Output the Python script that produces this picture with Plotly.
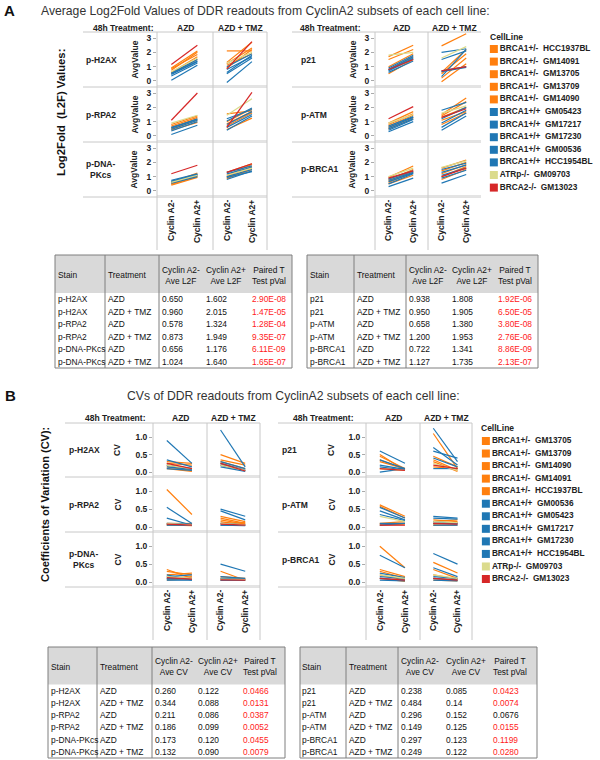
import plotly.graph_objects as go

W, H = 600, 760

# ------------------------------------------------------------------ categories
subsets = ["Cyclin A2-", "Cyclin A2+"]
treatments = ["AZD", "AZD + TMZ"]
stains_left = ["p-H2AX", "p-RPA2", "p-DNA-PKcs"]
stains_right = ["p21", "p-ATM", "p-BRCA1"]

cell_lines_A = ["BRCA1+/-  HCC1937BL", "BRCA1+/-  GM14091", "BRCA1+/-  GM13705",
                "BRCA1+/-  GM13709", "BRCA1+/-  GM14090", "BRCA1+/+  GM05423",
                "BRCA1+/+  GM17217", "BRCA1+/+  GM17230", "BRCA1+/+  GM00536",
                "BRCA1+/+  HCC1954BL", "ATRp-/-  GM09703", "BRCA2-/-  GM13023"]
genotype_A = ["BRCA1+/-", "BRCA1+/-", "BRCA1+/-", "BRCA1+/-", "BRCA1+/-",
              "BRCA1+/+", "BRCA1+/+", "BRCA1+/+", "BRCA1+/+", "BRCA1+/+",
              "ATRp-/-", "BRCA2-/-"]

cell_lines_B = ["BRCA1+/-  GM13705", "BRCA1+/-  GM13709", "BRCA1+/-  GM14090",
                "BRCA1+/-  GM14091", "BRCA1+/-  HCC1937BL", "BRCA1+/+  GM00536",
                "BRCA1+/+  GM05423", "BRCA1+/+  GM17217", "BRCA1+/+  GM17230",
                "BRCA1+/+  HCC1954BL", "ATRp-/-  GM09703", "BRCA2-/-  GM13023"]
genotype_B = ["BRCA1+/-", "BRCA1+/-", "BRCA1+/-", "BRCA1+/-", "BRCA1+/-",
              "BRCA1+/+", "BRCA1+/+", "BRCA1+/+", "BRCA1+/+", "BRCA1+/+",
              "ATRp-/-", "BRCA2-/-"]

# ------------------------------------------------------------------ panel A values (L2F), order = cell_lines_A
l2f_pH2AX_AZD_neg = [0.75, 0.90, 0.60, 0.55, 0.85, 0.45, 0.50, 0.35, 0.55, 0.05, 0.65, 1.15]
l2f_pH2AX_AZD_pos = [2.00, 2.10, 1.70, 1.50, 1.85, 1.35, 1.40, 1.25, 1.50, 1.10, 1.60, 2.50]
l2f_pH2AX_TMZ_neg = [2.10, 1.30, 1.20, 0.90, 1.10, 0.60, 0.80, 0.50, 1.00, -0.10, 1.25, 0.85]
l2f_pH2AX_TMZ_pos = [2.10, 2.70, 2.30, 2.20, 1.90, 1.80, 1.70, 1.60, 1.90, 1.35, 2.00, 2.75]
l2f_pRPA2_AZD_neg = [0.70, 0.80, 0.50, 0.40, 0.60, 0.55, 0.45, 0.35, 0.60, 0.10, 0.90, 1.10]
l2f_pRPA2_AZD_pos = [1.30, 1.40, 1.10, 0.95, 1.20, 1.20, 1.10, 1.00, 1.15, 0.75, 1.45, 3.00]
l2f_pRPA2_TMZ_neg = [1.55, 1.00, 0.85, 0.70, 0.45, 1.05, 1.20, 0.80, 0.60, 0.40, 1.45, 0.60]
l2f_pRPA2_TMZ_pos = [1.75, 1.90, 1.70, 1.60, 1.25, 1.95, 1.85, 1.70, 1.50, 1.40, 2.60, 3.05]
l2f_pDNAPK_AZD_neg = [0.60, 0.55, 0.45, 0.40, 0.50, 0.75, 0.70, 0.60, 0.65, 0.55, 0.60, 1.20]
l2f_pDNAPK_AZD_pos = [1.25, 1.10, 1.00, 0.95, 1.05, 1.20, 1.15, 1.10, 1.15, 1.00, 1.10, 1.80]
l2f_pDNAPK_TMZ_neg = [1.10, 1.00, 0.90, 0.85, 1.30, 1.20, 1.00, 0.80, 1.30, 0.95, 1.10, 1.30]
l2f_pDNAPK_TMZ_pos = [1.85, 1.70, 1.60, 1.50, 1.90, 1.65, 1.50, 1.40, 1.75, 1.35, 1.60, 1.90]
l2f_p21_AZD_neg = [1.70, 1.50, 1.00, 0.80, 0.50, 0.90, 0.80, 0.75, 0.70, 0.60, 1.80, 0.80]
l2f_p21_AZD_pos = [2.50, 2.20, 1.90, 1.70, 1.50, 1.80, 1.70, 1.60, 1.55, 1.40, 2.00, 1.50]
l2f_p21_TMZ_neg = [2.45, 0.20, 0.60, -0.05, 0.50, 2.00, 1.50, 0.70, 0.30, 0.65, 1.60, 0.70]
l2f_p21_TMZ_pos = [3.30, 1.60, 2.20, 1.20, 1.90, 2.25, 2.10, 1.00, 2.20, 0.95, 2.40, 1.00]
l2f_pATM_AZD_neg = [0.90, 0.80, 0.70, 0.60, 0.50, 0.70, 0.60, 0.50, 0.40, 0.30, 0.90, 1.20]
l2f_pATM_AZD_pos = [1.70, 1.55, 1.45, 1.30, 1.20, 1.35, 1.30, 1.20, 1.15, 1.00, 1.50, 2.05]
l2f_pATM_TMZ_neg = [1.50, 1.40, 1.30, 1.10, 0.80, 1.80, 1.20, 0.90, 0.60, 0.40, 1.60, 1.30]
l2f_pATM_TMZ_pos = [2.65, 2.40, 2.00, 1.70, 1.60, 2.35, 2.00, 1.80, 1.60, 1.40, 2.10, 1.90]
l2f_pBRCA1_AZD_neg = [0.95, 0.80, 0.70, 0.60, 0.50, 0.85, 0.75, 0.65, 0.50, 0.30, 1.00, 0.90]
l2f_pBRCA1_AZD_pos = [1.75, 1.50, 1.40, 1.30, 1.10, 1.40, 1.30, 1.25, 1.20, 0.90, 1.60, 1.40]
l2f_pBRCA1_TMZ_neg = [1.60, 1.40, 1.20, 1.00, 0.80, 1.50, 1.30, 1.10, 0.90, 0.55, 1.65, 1.00]
l2f_pBRCA1_TMZ_pos = [2.15, 2.00, 1.85, 1.70, 1.50, 1.95, 1.80, 1.60, 1.45, 1.15, 2.10, 1.60]

# ------------------------------------------------------------------ panel B values (CV), order = cell_lines_B
cv_pH2AX_AZD_neg = [0.30, 0.25, 0.20, 0.15, 0.10, 0.90, 0.35, 0.20, 0.15, 0.10, 0.20, 0.25]
cv_pH2AX_AZD_pos = [0.25, 0.20, 0.10, 0.05, 0.02, 0.25, 0.15, 0.10, 0.08, 0.05, 0.10, 0.10]
cv_pH2AX_TMZ_neg = [0.50, 0.35, 0.30, 0.25, 0.20, 1.20, 0.30, 0.25, 0.20, 0.15, 0.20, 0.25]
cv_pH2AX_TMZ_pos = [0.25, 0.20, 0.10, 0.05, 0.03, 0.15, 0.10, 0.05, 0.05, 0.02, 0.05, 0.03]
cv_pRPA2_AZD_neg = [1.05, 0.10, 0.08, 0.06, 0.05, 0.55, 0.25, 0.10, 0.08, 0.05, 0.10, 0.08]
cv_pRPA2_AZD_pos = [0.35, 0.10, 0.05, 0.04, 0.05, 0.10, 0.05, 0.08, 0.06, 0.05, 0.06, 0.05]
cv_pRPA2_TMZ_neg = [0.30, 0.25, 0.20, 0.15, 0.10, 0.50, 0.45, 0.10, 0.05, 0.05, 0.10, 0.08]
cv_pRPA2_TMZ_pos = [0.15, 0.10, 0.08, 0.05, 0.12, 0.30, 0.20, 0.06, 0.05, 0.04, 0.06, 0.05]
cv_pDNAPK_AZD_neg = [0.35, 0.30, 0.20, 0.10, 0.05, 0.20, 0.15, 0.10, 0.08, 0.05, 0.15, 0.12]
cv_pDNAPK_AZD_pos = [0.10, 0.20, 0.25, 0.15, 0.10, 0.05, 0.20, 0.08, 0.10, 0.05, 0.10, 0.08]
cv_pDNAPK_TMZ_neg = [0.30, 0.15, 0.10, 0.08, 0.05, 0.50, 0.15, 0.10, 0.05, 0.05, 0.08, 0.06]
cv_pDNAPK_TMZ_pos = [0.05, 0.10, 0.08, 0.06, 0.05, 0.30, 0.10, 0.08, 0.06, 0.05, 0.07, 0.05]
cv_p21_AZD_neg = [0.50, 0.45, 0.35, 0.30, 0.10, 0.60, 0.35, 0.20, 0.15, 0.00, 0.10, 0.10]
cv_p21_AZD_pos = [0.05, 0.10, 0.08, 0.10, 0.05, 0.25, 0.10, 0.08, 0.06, 0.10, 0.05, 0.05]
cv_p21_TMZ_neg = [1.10, 0.45, 0.35, 0.30, 0.15, 1.25, 0.70, 0.60, 0.40, 0.10, 0.25, 0.20]
cv_p21_TMZ_pos = [0.10, 0.15, 0.05, 0.02, 0.10, 0.30, 0.20, 0.40, 0.15, 0.10, 0.05, 0.10]
cv_pATM_AZD_neg = [0.62, 0.58, 0.10, 0.08, 0.05, 0.55, 0.45, 0.35, 0.10, 0.05, 0.30, 0.05]
cv_pATM_AZD_pos = [0.30, 0.25, 0.15, 0.10, 0.08, 0.25, 0.20, 0.18, 0.10, 0.10, 0.15, 0.05]
cv_pATM_TMZ_neg = [0.20, 0.15, 0.10, 0.08, 0.05, 0.30, 0.25, 0.15, 0.10, 0.05, 0.15, 0.10]
cv_pATM_TMZ_pos = [0.15, 0.20, 0.10, 0.12, 0.05, 0.25, 0.22, 0.10, 0.08, 0.05, 0.12, 0.08]
cv_pBRCA1_AZD_neg = [1.00, 0.35, 0.30, 0.20, 0.10, 0.75, 0.25, 0.15, 0.10, 0.05, 0.20, 0.10]
cv_pBRCA1_AZD_pos = [0.40, 0.15, 0.10, 0.05, 0.02, 0.40, 0.12, 0.10, 0.05, 0.03, 0.10, 0.05]
cv_pBRCA1_TMZ_neg = [0.55, 0.35, 0.20, 0.10, 0.05, 0.80, 0.40, 0.15, 0.10, 0.05, 0.20, 0.10]
cv_pBRCA1_TMZ_pos = [0.25, 0.10, 0.08, 0.05, 0.03, 0.50, 0.15, 0.10, 0.05, 0.03, 0.10, 0.05]

# ------------------------------------------------------------------ tables
tA_head = ["Stain", "Treatment", "Cyclin A2-<br>Ave L2F", "Cyclin A2+<br>Ave L2F", "Paired T<br>Test pVal"]
tB_head = ["Stain", "Treatment", "Cyclin A2-<br>Ave CV", "Cyclin A2+<br>Ave CV", "Paired T<br>Test pVal"]

tA1_stain = ["p-H2AX", "p-H2AX", "p-RPA2", "p-RPA2", "p-DNA-PKcs", "p-DNA-PKcs"]
tA1_treat = ["AZD", "AZD + TMZ", "AZD", "AZD + TMZ", "AZD", "AZD + TMZ"]
tA1_neg = ["0.650", "0.960", "0.578", "0.873", "0.656", "1.024"]
tA1_pos = ["1.602", "2.015", "1.324", "1.949", "1.176", "1.640"]
tA1_p = ["2.90E-08", "1.47E-05", "1.28E-04", "9.35E-07", "6.11E-09", "1.65E-07"]
tA1_red = [True, True, True, True, True, True]

tA2_stain = ["p21", "p21", "p-ATM", "p-ATM", "p-BRCA1", "p-BRCA1"]
tA2_treat = ["AZD", "AZD + TMZ", "AZD", "AZD + TMZ", "AZD", "AZD + TMZ"]
tA2_neg = ["0.938", "0.950", "0.658", "1.200", "0.722", "1.127"]
tA2_pos = ["1.808", "1.905", "1.380", "1.953", "1.341", "1.735"]
tA2_p = ["1.92E-06", "6.50E-05", "3.80E-08", "2.76E-06", "8.86E-09", "2.13E-07"]
tA2_red = [True, True, True, True, True, True]

tB1_stain = ["p-H2AX", "p-H2AX", "p-RPA2", "p-RPA2", "p-DNA-PKcs", "p-DNA-PKcs"]
tB1_treat = ["AZD", "AZD + TMZ", "AZD", "AZD + TMZ", "AZD", "AZD + TMZ"]
tB1_neg = ["0.260", "0.344", "0.211", "0.186", "0.173", "0.132"]
tB1_pos = ["0.122", "0.088", "0.086", "0.099", "0.120", "0.090"]
tB1_p = ["0.0466", "0.0131", "0.0387", "0.0052", "0.0455", "0.0079"]
tB1_red = [True, True, True, True, True, True]

tB2_stain = ["p21", "p21", "p-ATM", "p-ATM", "p-BRCA1", "p-BRCA1"]
tB2_treat = ["AZD", "AZD + TMZ", "AZD", "AZD + TMZ", "AZD", "AZD + TMZ"]
tB2_neg = ["0.238", "0.484", "0.296", "0.149", "0.297", "0.249"]
tB2_pos = ["0.085", "0.14", "0.152", "0.125", "0.123", "0.122"]
tB2_p = ["0.0423", "0.0074", "0.0676", "0.0155", "0.1199", "0.0280"]
tB2_red = [True, True, False, True, True, True]

# ------------------------------------------------------------------ styles
genotype_colors = {"BRCA1+/-": "#ff7f0e", "BRCA1+/+": "#1f77b4",
                   "ATRp-/-": "#dbdb8d", "BRCA2-/-": "#d62728"}
SANS = "Liberation Sans, Arial, sans-serif"
GRID = "#c8c8c8"
TXT = "#222222"
LBL = 8.5

L2F = {
    ("p-H2AX", "AZD"): (l2f_pH2AX_AZD_neg, l2f_pH2AX_AZD_pos),
    ("p-H2AX", "AZD + TMZ"): (l2f_pH2AX_TMZ_neg, l2f_pH2AX_TMZ_pos),
    ("p-RPA2", "AZD"): (l2f_pRPA2_AZD_neg, l2f_pRPA2_AZD_pos),
    ("p-RPA2", "AZD + TMZ"): (l2f_pRPA2_TMZ_neg, l2f_pRPA2_TMZ_pos),
    ("p-DNA-PKcs", "AZD"): (l2f_pDNAPK_AZD_neg, l2f_pDNAPK_AZD_pos),
    ("p-DNA-PKcs", "AZD + TMZ"): (l2f_pDNAPK_TMZ_neg, l2f_pDNAPK_TMZ_pos),
    ("p21", "AZD"): (l2f_p21_AZD_neg, l2f_p21_AZD_pos),
    ("p21", "AZD + TMZ"): (l2f_p21_TMZ_neg, l2f_p21_TMZ_pos),
    ("p-ATM", "AZD"): (l2f_pATM_AZD_neg, l2f_pATM_AZD_pos),
    ("p-ATM", "AZD + TMZ"): (l2f_pATM_TMZ_neg, l2f_pATM_TMZ_pos),
    ("p-BRCA1", "AZD"): (l2f_pBRCA1_AZD_neg, l2f_pBRCA1_AZD_pos),
    ("p-BRCA1", "AZD + TMZ"): (l2f_pBRCA1_TMZ_neg, l2f_pBRCA1_TMZ_pos),
}
CV = {
    ("p-H2AX", "AZD"): (cv_pH2AX_AZD_neg, cv_pH2AX_AZD_pos),
    ("p-H2AX", "AZD + TMZ"): (cv_pH2AX_TMZ_neg, cv_pH2AX_TMZ_pos),
    ("p-RPA2", "AZD"): (cv_pRPA2_AZD_neg, cv_pRPA2_AZD_pos),
    ("p-RPA2", "AZD + TMZ"): (cv_pRPA2_TMZ_neg, cv_pRPA2_TMZ_pos),
    ("p-DNA-PKcs", "AZD"): (cv_pDNAPK_AZD_neg, cv_pDNAPK_AZD_pos),
    ("p-DNA-PKcs", "AZD + TMZ"): (cv_pDNAPK_TMZ_neg, cv_pDNAPK_TMZ_pos),
    ("p21", "AZD"): (cv_p21_AZD_neg, cv_p21_AZD_pos),
    ("p21", "AZD + TMZ"): (cv_p21_TMZ_neg, cv_p21_TMZ_pos),
    ("p-ATM", "AZD"): (cv_pATM_AZD_neg, cv_pATM_AZD_pos),
    ("p-ATM", "AZD + TMZ"): (cv_pATM_TMZ_neg, cv_pATM_TMZ_pos),
    ("p-BRCA1", "AZD"): (cv_pBRCA1_AZD_neg, cv_pBRCA1_AZD_pos),
    ("p-BRCA1", "AZD + TMZ"): (cv_pBRCA1_TMZ_neg, cv_pBRCA1_TMZ_pos),
}

fig = go.Figure()
annotations = []
shapes = []
axis_count = [0]


def px(x):
    return x / W


def py(y):
    return 1 - y / H


def add_axes(xdom, ydom, xkw, ykw):
    axis_count[0] += 1
    n = axis_count[0]
    s = "" if n == 1 else str(n)
    fig.update_layout({"xaxis" + s: dict(domain=[px(xdom[0]), px(xdom[1])], anchor="y" + s, **xkw),
                       "yaxis" + s: dict(domain=[py(ydom[1]), py(ydom[0])], anchor="x" + s, **ykw)})
    return "x" + s, "y" + s


def ann(text, x, y, size=LBL, family=SANS, bold=True, xanchor="center", yanchor="middle",
        angle=0, color=TXT):
    annotations.append(dict(text=text, x=px(x), y=py(y), xref="paper", yref="paper",
                            showarrow=False, xanchor=xanchor, yanchor=yanchor, textangle=angle,
                            borderpad=0,
                            font=dict(size=size, family=family, color=color,
                                      weight="bold" if bold else "normal")))


def hline(x0, x1, y, color=GRID, width=1):
    shapes.append(dict(type="line", xref="paper", yref="paper", x0=px(x0), x1=px(x1),
                       y0=py(y), y1=py(y), line=dict(color=color, width=width)))


def vline(x, y0, y1, color=GRID, width=1):
    shapes.append(dict(type="line", xref="paper", yref="paper", x0=px(x), x1=px(x),
                       y0=py(y0), y1=py(y1), line=dict(color=color, width=width)))


grid_specs = [
    dict(stains=stains_left, values=L2F, genos=genotype_A,
         cols=[(157, 213), (213, 267)], rows=[(32, 87), (87, 142), (142, 197)],
         yrange=[-0.42, 3.42], tickvals=[0, 1, 2, 3], tickformat="d", ytitle="AvgValue",
         label_x=85, ytitle_x=134, line_x0=83, header_right=155, header_y=28,
         sep_bottom=250, right_border=True),
    dict(stains=stains_right, values=L2F, genos=genotype_A,
         cols=[(375, 428), (428, 481)], rows=[(32, 87), (87, 142), (142, 197)],
         yrange=[-0.42, 3.42], tickvals=[0, 1, 2, 3], tickformat="d", ytitle="AvgValue",
         label_x=300, ytitle_x=352, line_x0=292, header_right=362, header_y=28,
         sep_bottom=250, right_border=False),
    dict(stains=stains_left, values=CV, genos=genotype_B,
         cols=[(153, 207), (207, 260)], rows=[(423, 477), (477, 532), (532, 587)],
         yrange=[-0.14, 1.4], tickvals=[0, 0.5, 1.0], tickformat=".1f", ytitle="CV",
         label_x=68, ytitle_x=117, line_x0=65, header_right=147, header_y=418,
         sep_bottom=640, right_border=True),
    dict(stains=stains_right, values=CV, genos=genotype_B,
         cols=[(366, 420), (420, 472)], rows=[(423, 477), (477, 532), (532, 587)],
         yrange=[-0.14, 1.4], tickvals=[0, 0.5, 1.0], tickformat=".1f", ytitle="CV",
         label_x=281, ytitle_x=331, line_x0=278, header_right=355, header_y=418,
         sep_bottom=640, right_border=True),
]

for g in grid_specs:
    rows, cols = g["rows"], g["cols"]
    # frame lines
    for yb in [rows[0][0]] + [r[1] for r in rows]:
        hline(g["line_x0"], cols[-1][1], yb)
    for r in rows:
        for c in cols:
            hline(c[0], c[1], r[1] - 1, color="#e4e4e4", width=2)
    vxs = [cols[0][0], cols[1][0]] + ([cols[1][1]] if g["right_border"] else [])
    for vx in vxs:
        vline(vx, rows[0][0], g["sep_bottom"])
    # header
    ann("48h Treatment:", g["header_right"], g["header_y"], xanchor="right")
    for c, tr in enumerate(treatments):
        ann(tr, (cols[c][0] + cols[c][1]) / 2, g["header_y"])
    for r, stain in enumerate(g["stains"]):
        top, bot = rows[r]
        yc = (top + bot) / 2
        label = stain.replace("p-DNA-PKcs", "p-DNA-<br>PKcs")
        ann(label, g["label_x"], yc, xanchor="left")
        ann(g["ytitle"], g["ytitle_x"], yc, angle=-90)
        for c, tr in enumerate(treatments):
            x0, x1 = cols[c]
            xkw = dict(type="category", categoryorder="array", categoryarray=subsets,
                       range=[-0.55, 1.6], showgrid=False, zeroline=False, showline=False,
                       showticklabels=(r == len(rows) - 1), tickangle=-90, ticks="",
                       tickfont=dict(family=SANS, size=LBL, color=TXT, weight="bold"),
                       fixedrange=True)
            ykw = dict(range=g["yrange"], tickvals=g["tickvals"], tickformat=g["tickformat"],
                       showgrid=False, zeroline=False, showline=False,
                       showticklabels=(c == 0), ticks="outside" if c == 0 else "",
                       ticklen=3, tickcolor="#aaaaaa",
                       tickfont=dict(family=SANS, size=LBL, color=TXT, weight="bold"),
                       fixedrange=True)
            xa, ya = add_axes((x0, x1), (top, bot), xkw, ykw)
            neg, pos = g["values"][(stain, tr)]
            for i in range(len(neg)):
                fig.add_trace(go.Scatter(
                    x=subsets, y=[neg[i], pos[i]], mode="lines",
                    line=dict(color=genotype_colors[g["genos"][i]], width=1.2),
                    xaxis=xa, yaxis=ya, showlegend=False, hoverinfo="skip"))


# ------------------------------------------------------------------ legends
def add_legend(names, genos, xdom, ydom, title_x, title_y):
    xa, ya = add_axes(xdom, ydom,
                      dict(range=[-1.2, 9.2], visible=False, fixedrange=True),
                      dict(type="category", categoryorder="array", categoryarray=names,
                           range=[len(names) - 0.5, -0.5], visible=False, fixedrange=True))
    fig.add_trace(go.Scatter(
        x=[0] * len(names), y=names, mode="markers+text",
        marker=dict(symbol="square", size=8, color=[genotype_colors[gg] for gg in genos]),
        text=[n.replace("  ", "\u00a0\u00a0") for n in names], textposition="middle right",
        textfont=dict(family=SANS, size=8.3, color=TXT, weight="bold"),
        cliponaxis=False, xaxis=xa, yaxis=ya, showlegend=False, hoverinfo="skip"))
    ann("CellLine", title_x, title_y, xanchor="left")


add_legend(cell_lines_A, genotype_A, (480, 600), (42.7, 193.9), 489, 37)
add_legend(cell_lines_B, genotype_B, (471, 600), (434.7, 585.3), 480, 428)


# ------------------------------------------------------------------ tables
def add_table(edges, top, head_bottom, row_h, headers, columns, red_flags):
    nrows = len(columns[0])
    bottom = head_bottom + row_h * nrows
    shapes.append(dict(type="rect", xref="paper", yref="paper", x0=px(edges[0]), x1=px(edges[-1]),
                       y0=py(head_bottom), y1=py(top), fillcolor="#d9d9d9", line=dict(width=0),
                       layer="below"))
    shapes.append(dict(type="rect", xref="paper", yref="paper", x0=px(edges[0]), x1=px(edges[-1]),
                       y0=py(bottom), y1=py(top), line=dict(color="#7f7f7f", width=1)))
    for e in edges[1:3]:
        vline(e, top, bottom, color="#7f7f7f")
    for j, htxt in enumerate(headers):
        ann(htxt, edges[j] + 1.5, (top + head_bottom) / 2 + 1, size=8.4, bold=False,
            xanchor="left", color="#111111")
    for j, col in enumerate(columns):
        for i, v in enumerate(col):
            color = "#111111"
            if j == len(columns) - 1 and red_flags[i]:
                color = "#ff1a1a"
            ann(v, edges[j] + 1.5, head_bottom + row_h * (i + 0.5), size=8.4, bold=False,
                xanchor="left", color=color)


add_table([55, 105, 159, 203, 249, 292], 255, 293, 12.5, tA_head,
          [tA1_stain, tA1_treat, tA1_neg, tA1_pos, tA1_p], tA1_red)
add_table([307, 354, 406, 450, 495, 538], 255, 293, 12.5, tA_head,
          [tA2_stain, tA2_treat, tA2_neg, tA2_pos, tA2_p], tA2_red)
add_table([48, 97, 152, 195, 240, 285], 647, 684.5, 12.25, tB_head,
          [tB1_stain, tB1_treat, tB1_neg, tB1_pos, tB1_p], tB1_red)
add_table([300, 346, 398, 443, 490, 537], 647, 684.5, 12.25, tB_head,
          [tB2_stain, tB2_treat, tB2_neg, tB2_pos, tB2_p], tB2_red)

# ------------------------------------------------------------------ titles
ann("A", 3, 10, size=15, xanchor="left", color="#111111")
ann("B", 4, 395, size=15, xanchor="left", color="#111111")
ann("Average Log2Fold Values of DDR readouts from CyclinA2 subsets of each cell line:",
    265, 11, size=12.2, bold=False, color="#333333")
ann("CVs of DDR readouts from CyclinA2 subsets of each cell line:",
    293, 396, size=12.2, bold=False, color="#333333")
ann("Log2Fold\u00a0\u00a0(L2F) Values:", 61, 113, size=11.3, angle=-90, color="#111111")
ann("Coefficients of Variation (CV):", 45, 505, size=11, angle=-90, color="#111111")

fig.update_layout(width=W, height=H, margin=dict(l=0, r=0, t=0, b=0),
                  paper_bgcolor="white", plot_bgcolor="white", showlegend=False,
                  annotations=annotations, shapes=shapes)

fig.write_html("out.html", config={"displayModeBar": False},
               post_script="document.body.style.margin='0px';")
